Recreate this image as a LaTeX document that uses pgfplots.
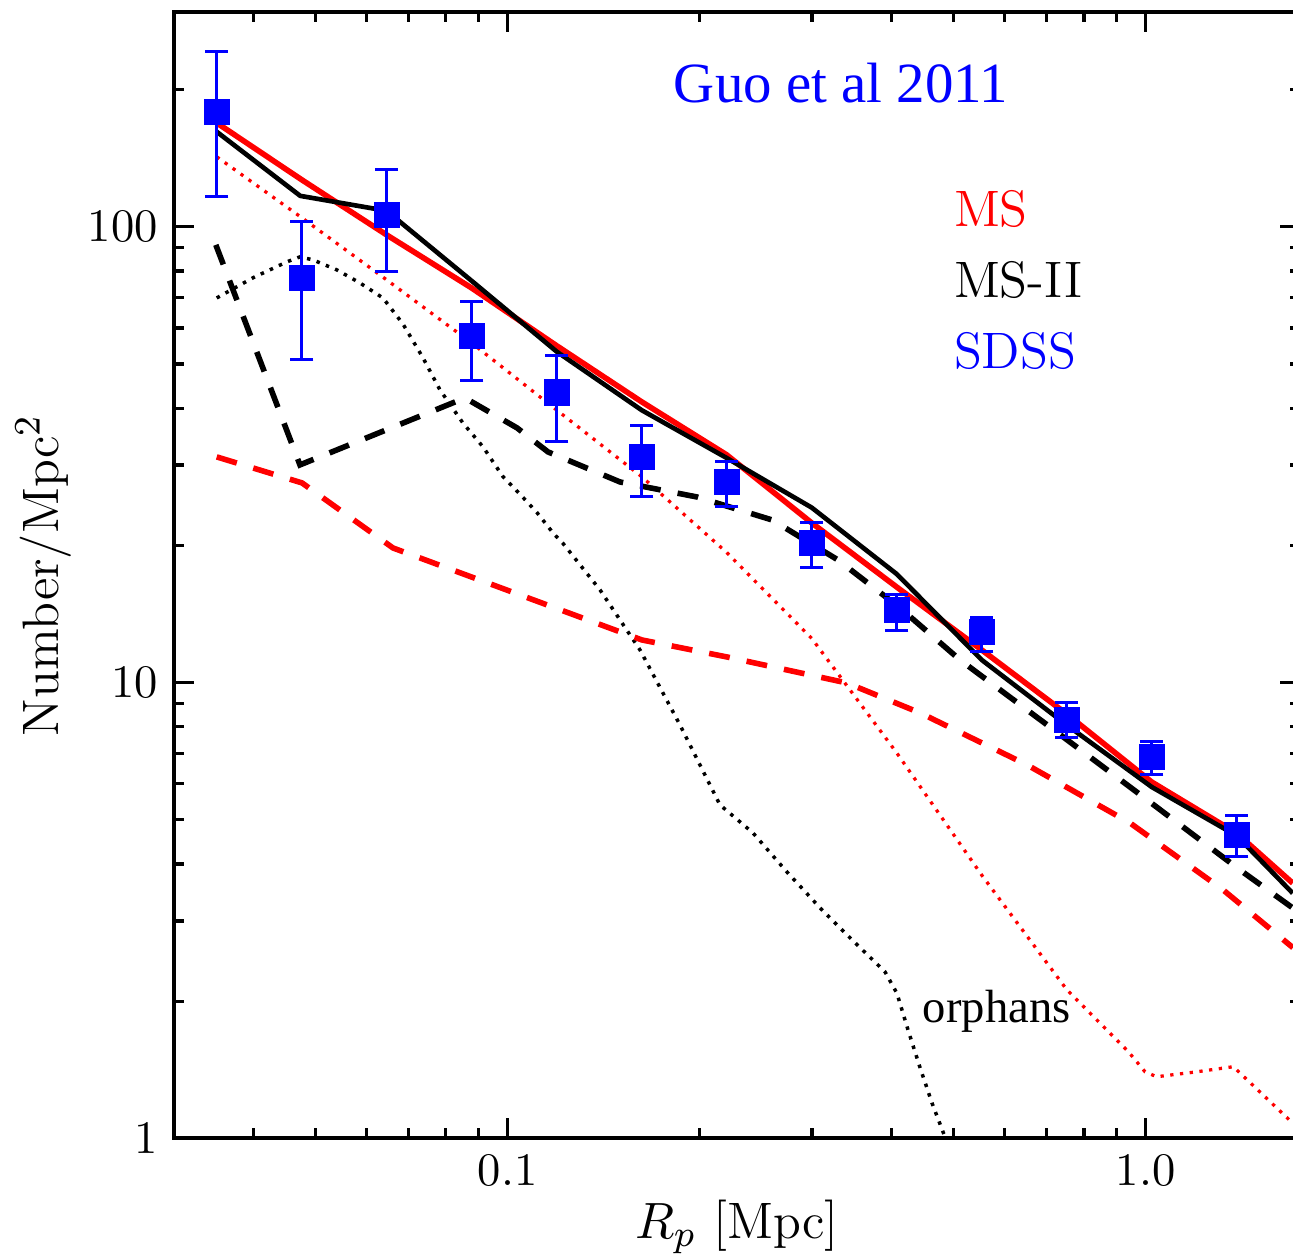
\documentclass[border=0pt]{standalone}
\usepackage{fontspec}
\usepackage{pgfplots}
\pgfplotsset{compat=1.18}
\usepackage{pgfplotstable}
\newfontfamily\timesfont{Liberation Serif}

\pgfplotstableread{
x y ep em
0.03499 178.9 63.5 62.4
0.04754 77.1 25.6 25.9
0.06462 106.2 27.1 26.5
0.08782 57.6 10.9 11.6
0.11935 43.3 8.8 9.5
0.16218 31.3 5.3 5.7
0.22043 27.6 2.9 3.3
0.29962 20.2 2.3 2.3
0.40715 14.4 1.2 1.4
0.55335 12.9 1.0 1.2
0.75198 8.28 0.75 0.69
1.0219 6.88 0.54 0.61
1.3887 4.63 0.47 0.48
}\sdss

\begin{document}
\begin{tikzpicture}
\begin{axis}[
  at={(0,0)}, anchor=south west,
  xmode=log, ymode=log,
  scale only axis, width=241.6pt, height=241.7pt,
  xmin=0.03, xmax=1.745, ymin=1, ymax=296,
  xtick={0.1,1}, xticklabels={0.1,1.0},
  ytick={1,10,100}, yticklabels={1,10,100},
  minor xtick={0.03,0.04,0.05,0.06,0.07,0.08,0.09,0.2,0.3,0.4,0.5,0.6,0.7,0.8,0.9},
  minor ytick={2,3,4,5,6,7,8,9,20,30,40,50,60,70,80,90,200},
  major tick length=4.3pt, minor tick length=2.2pt,
  every tick/.style={black, line width=0.7pt},
  axis line style={line width=0.9pt},
  tick label style={font=\fontsize{10}{12}\selectfont},
  xlabel={$R_p$ [Mpc]}, ylabel={Number/Mpc$^2$},
  xlabel style={at={(axis description cs:0.5,-0.0888)}, anchor=base, font=\fontsize{11}{13}\selectfont},
  ylabel style={at={(axis description cs:-0.103,0.5)}, anchor=base, rotate=0, font=\fontsize{11}{13}\selectfont},
  clip=true,
]
% MS total (red solid)
\addplot[red, line width=1.2pt, line join=round] table[x index=0, y index=1] {
0.035 169.0
0.0476 126.7
0.0646 96.0
0.0878 73.4
0.1194 54.8
0.1622 41.3
0.2204 31.6
0.2996 22.4
0.4072 16.2
0.5534 11.79
0.752 8.53
1.022 6.05
1.389 4.67
1.70 3.63
};
% MS-II total (black solid)
\addplot[black, line width=1.0pt, line join=round] table[x index=0, y index=1] {
0.035 161.6
0.0473 116.9
0.0646 108.4
0.0878 76.1
0.1194 53.2
0.1622 39.6
0.2204 31.1
0.2996 24.2
0.4072 17.3
0.5534 11.21
0.752 8.07
1.022 5.90
1.389 4.61
1.70 3.45
};
% MS orphans (red dotted)
\addplot[red, line width=0.7pt, dash pattern=on 0.7pt off 1.4pt] table[x index=0, y index=1] {
0.035 142.4
0.0476 104.6
0.0646 76.5
0.0878 55.6
0.1194 39.6
0.1622 28.3
0.2204 19.3
0.2996 12.5
0.4072 7.01
0.5534 3.78
0.752 2.12
0.939 1.55
0.9975 1.40
1.04 1.365
1.195 1.398
1.372 1.436
1.70 1.08
};
% MS-II orphans (black dotted)
\addplot[black, line width=0.75pt, dash pattern=on 0.75pt off 1.4pt] table[x index=0, y index=1] {
0.03499 69.8
0.03989 77.3
0.04510 83.8
0.04725 85.9
0.04952 84.6
0.05401 80.4
0.05868 75.3
0.06376 69.8
0.06853 61.2
0.07366 51.6
0.07830 43.9
0.08510 37.1
0.09147 32.9
0.09831 28.3
0.10454 25.9
0.11115 23.6
0.11776 21.3
0.12209 20.2
0.13954 15.97
0.16122 11.79
0.18626 8.07
0.21512 5.39
0.24229 4.68
0.27404 3.84
0.31097 3.17
0.35280 2.66
0.39030 2.32
0.40748 2.08
0.42405 1.73
0.44289 1.43
0.46246 1.195
0.48456 1.007
};
% MS dashed (red)
\addplot[red, line width=1.2pt, dash pattern=on 4.5pt off 3.7pt] table[x index=0, y index=1] {
0.03499 31.27
0.04760 27.42
0.06611 19.74
0.16236 12.40
0.22070 11.38
0.34013 9.98
0.44284 8.58
0.65152 6.60
0.94492 4.92
1.3217 3.51
1.7015 2.62
};
% MS-II dashed (black)
\addplot[black, line width=1.2pt, dash pattern=on 4.5pt off 3.7pt] table[x index=0, y index=1] {
0.03488 91.27
0.04725 30.03
0.08571 42.12
0.10342 36.21
0.11565 32.07
0.15000 27.55
0.19800 25.54
0.25963 22.74
0.32939 18.58
0.41195 14.58
0.51170 11.21
0.70795 7.99
1.0047 5.53
1.4055 3.88
1.7015 3.20
};
% SDSS data
\addplot[blue, only marks, mark=square*, mark size=2.6pt,
  error bars/.cd, y dir=both, y explicit,
  error bar style={blue, line width=0.65pt},
  error mark options={rotate=90, blue, mark size=2.5pt, line width=0.65pt}]
  table[x=x, y=y, y error plus=ep, y error minus=em] {\sdss};

\node[anchor=base, inner sep=0pt, text=blue, font=\timesfont\fontsize{12.2}{14}\selectfont] at (rel axis cs:0.5924,0.9193) {Guo et al 2011};
\node[anchor=base west, inner sep=0pt, text=red, font=\fontsize{11}{13}\selectfont] at (rel axis cs:0.6919,0.8094) {MS};
\node[anchor=base west, inner sep=0pt, text=black, font=\fontsize{11}{13}\selectfont] at (rel axis cs:0.6919,0.7461) {MS-II};
\node[anchor=base west, inner sep=0pt, text=blue, font=\fontsize{11}{13}\selectfont] at (rel axis cs:0.6919,0.6838) {SDSS};
\node[anchor=base west, inner sep=0pt, text=black, font=\timesfont\fontsize{10}{12}\selectfont] at (rel axis cs:0.6643,0.1024) {orphans};
\end{axis}
\pgfresetboundingbox
\path[use as bounding box] (-37.36pt,-25.04pt) rectangle (240.11pt,244.28pt);
\end{tikzpicture}
\end{document}
